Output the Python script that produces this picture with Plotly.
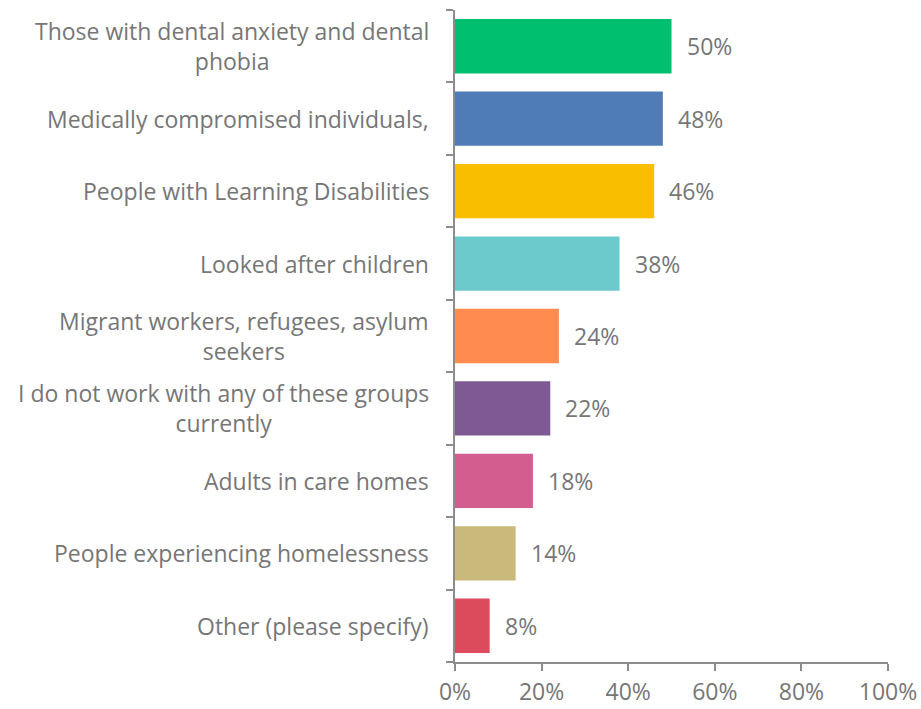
import plotly.graph_objects as go

categories = [
    "Those with dental anxiety and dental<br>phobia",
    "Medically compromised individuals,",
    "People with Learning Disabilities",
    "Looked after children",
    "Migrant workers, refugees, asylum<br>seekers",
    "I do not work with any of these groups<br>currently",
    "Adults in care homes",
    "People experiencing homelessness",
    "Other (please specify)",
]
values = [50, 48, 46, 38, 24, 22, 18, 14, 8]
colors = ["#00BF6F", "#4F7CB6", "#F9BE00", "#6CCACD", "#FF8B4F",
          "#7D5B92", "#D45D8F", "#C9B97A", "#DC4B5C"]
x_ticks = [0, 20, 40, 60, 80, 100]

FONT = "Open Sans"
GREY = "#767676"
AXIS = "#8C8C8C"
SIZE = 23

idx = list(range(len(categories)))

fig = go.Figure(go.Bar(
    x=values, y=idx, orientation="h",
    marker=dict(color=colors, line=dict(width=0)),
    width=0.75, hoverinfo="skip",
))

annotations = []
for i, (c, v) in enumerate(zip(categories, values)):
    # category label, centred lines, right-aligned to the axis
    annotations.append(dict(
        x=0, xref="x", y=i, yref="y", text=c, showarrow=False,
        xanchor="right", yanchor="middle", align="center", xshift=-24,
        font=dict(family=FONT, size=SIZE, color=GREY),
    ))
    # value label beside the bar
    annotations.append(dict(
        x=v, xref="x", y=i, yref="y", text=f"{v}%", showarrow=False,
        xanchor="left", yanchor="middle", xshift=13,
        font=dict(family=FONT, size=SIZE, color=GREY),
    ))

fig.update_layout(
    width=921, height=709,
    margin=dict(l=455, r=33, t=10, b=47),
    paper_bgcolor="white", plot_bgcolor="white",
    showlegend=False,
    bargap=0.25,
    annotations=annotations,
    xaxis=dict(
        range=[0, 100], tickvals=x_ticks, ticktext=[f"{t}%" for t in x_ticks],
        showgrid=False, zeroline=False, showline=True, linecolor=AXIS, linewidth=2,
        ticks="outside", ticklen=7, tickwidth=2, tickcolor=AXIS,
        tickfont=dict(family=FONT, size=SIZE, color=GREY),
        ticklabelstandoff=1,
        automargin=False, fixedrange=True,
    ),
    yaxis=dict(
        range=[len(categories) - 0.5, -0.5],
        tickvals=[i - 0.5 for i in range(len(categories) + 1)],
        ticktext=[""] * (len(categories) + 1),
        showgrid=False, zeroline=False, showline=True, linecolor=AXIS, linewidth=2,
        ticks="outside", ticklen=7, tickwidth=2, tickcolor=AXIS,
        automargin=False, fixedrange=True,
    ),
)

fig.write_html("out.html")
